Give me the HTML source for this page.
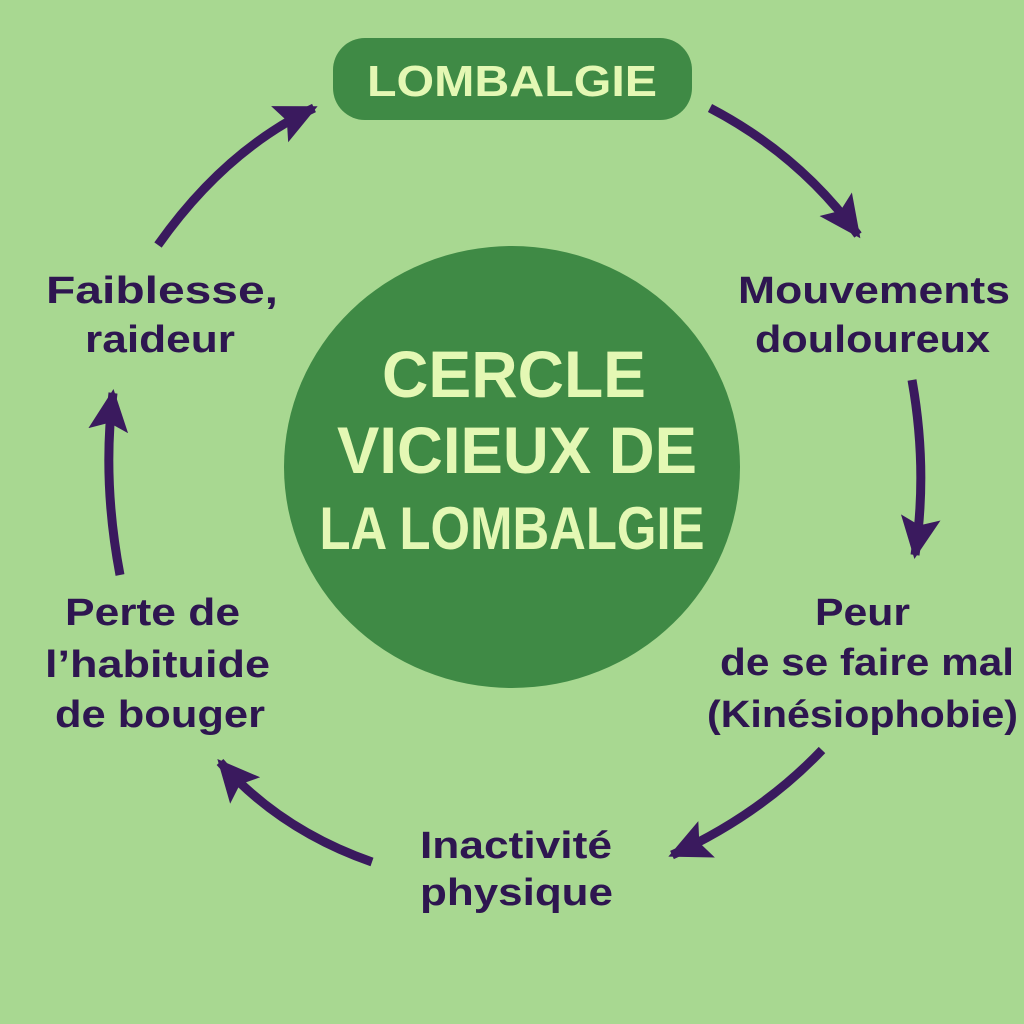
<!DOCTYPE html>
<html><head><meta charset="utf-8"><style>
html,body{margin:0;padding:0;background:#a8d891;}
svg{display:block}
text{font-family:"Liberation Sans",sans-serif;font-weight:bold;}
.p{fill:#2e1650;font-size:38px;}
.w{fill:#e4f8b4;}
</style></head><body>
<svg width="1024" height="1024" viewBox="0 0 1024 1024">
<defs>
<marker id="a" markerUnits="userSpaceOnUse" markerWidth="50" markerHeight="50" refX="38" refY="20" orient="auto">
<path d="M0,0 L42,20 L0,40 L8,20 Z" fill="#3a1a5e"/>
</marker>
</defs>
<rect width="1024" height="1024" fill="#a8d891"/>
<rect x="333" y="38" width="359" height="82" rx="32" fill="#3f8a45"/>
<text class="w" x="512" y="96" font-size="44" text-anchor="middle" textLength="290" lengthAdjust="spacingAndGlyphs">LOMBALGIE</text>
<ellipse cx="512" cy="467" rx="228" ry="221" fill="#3f8a45"/>
<text class="w" x="514" y="397" font-size="66" text-anchor="middle" textLength="264" lengthAdjust="spacingAndGlyphs">CERCLE</text>
<text class="w" x="517" y="473" font-size="66" text-anchor="middle" textLength="360" lengthAdjust="spacingAndGlyphs">VICIEUX DE</text>
<text class="w" x="512" y="549" font-size="60" text-anchor="middle" textLength="385" lengthAdjust="spacingAndGlyphs">LA LOMBALGIE</text>
<g fill="none" stroke="#3a1a5e" stroke-width="9">
<path d="M710,108 Q800,155 858,235" marker-end="url(#a)"/>
<path d="M912,380 Q928,470 915,555" marker-end="url(#a)"/>
<path d="M822,750 Q760,815 672,855" marker-end="url(#a)"/>
<path d="M372,862 Q280,830 220,762" marker-end="url(#a)"/>
<path d="M120,575 Q102,480 113,393" marker-end="url(#a)"/>
<path d="M158,245 Q225,150 314,108" marker-end="url(#a)"/>
</g>
<text class="p" x="46" y="303" textLength="232" lengthAdjust="spacingAndGlyphs">Faiblesse,</text>
<text class="p" x="85" y="352" textLength="150" lengthAdjust="spacingAndGlyphs">raideur</text>
<text class="p" x="738" y="303" textLength="272" lengthAdjust="spacingAndGlyphs">Mouvements</text>
<text class="p" x="755" y="352" textLength="235" lengthAdjust="spacingAndGlyphs">douloureux</text>
<text class="p" x="815" y="625" textLength="95" lengthAdjust="spacingAndGlyphs">Peur</text>
<text class="p" x="720" y="675" textLength="294" lengthAdjust="spacingAndGlyphs">de se faire mal</text>
<text class="p" x="707" y="727" textLength="311" lengthAdjust="spacingAndGlyphs">(Kinésiophobie)</text>
<text class="p" x="420" y="858" textLength="192" lengthAdjust="spacingAndGlyphs">Inactivité</text>
<text class="p" x="420" y="905" textLength="193" lengthAdjust="spacingAndGlyphs">physique</text>
<text class="p" x="65" y="625" textLength="175" lengthAdjust="spacingAndGlyphs">Perte de</text>
<text class="p" x="45" y="677" textLength="225" lengthAdjust="spacingAndGlyphs">l’habituide</text>
<text class="p" x="55" y="727" textLength="210" lengthAdjust="spacingAndGlyphs">de bouger</text>
</svg>
</body></html>
